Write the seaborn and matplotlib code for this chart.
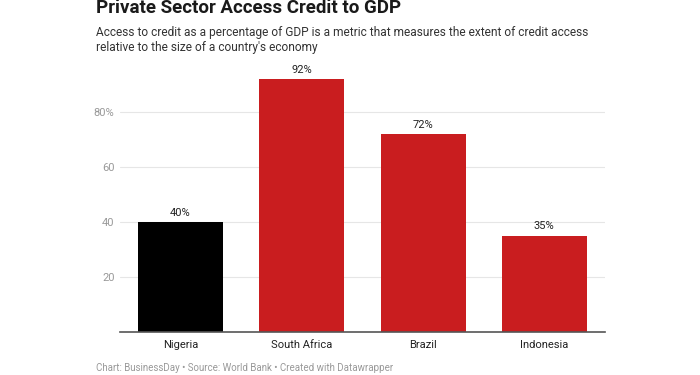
import matplotlib.pyplot as plt
import seaborn as sns
import pandas as pd

countries = ["Nigeria", "South Africa", "Brazil", "Indonesia"]
credit_pct = [40, 92, 72, 35]
bar_colors = ["#000000", "#c91d1f", "#c91d1f", "#c91d1f"]
yticks = [20, 40, 60, 80]
ytick_labels = ["20", "40", "60", "80%"]

df = pd.DataFrame({"country": countries, "credit": credit_pct})

sns.set_theme(style="white")
plt.rcParams["font.family"] = ["Roboto", "DejaVu Sans"]

fig = plt.figure(figsize=(7, 3.75), dpi=100)
ax = fig.add_axes([120 / 700, 43 / 375, 485 / 700, 261 / 375])

sns.barplot(data=df, x="country", y="credit", hue="country", palette=bar_colors,
            width=0.7, legend=False, ax=ax, saturation=1, linewidth=0)

for i, v in enumerate(credit_pct):
    ax.text(i, v + 1.6, f"{v}%", ha="center", va="bottom", fontsize=8, color="#222222")

ax.set_xlim(-0.5, 3.5)
ax.set_ylim(0, 95)
ax.set_yticks(yticks)
ax.set_yticklabels(ytick_labels)
ax.yaxis.grid(True, color="#e6e6e6", linewidth=0.8)
ax.set_axisbelow(True)
ax.set_xlabel("")
ax.set_ylabel("")
for s in ["top", "right", "left"]:
    ax.spines[s].set_visible(False)
ax.spines["bottom"].set_color("#555555")
ax.spines["bottom"].set_linewidth(1.2)
ax.tick_params(axis="y", colors="#aaaaaa", labelsize=8, length=0, pad=4)
ax.tick_params(axis="x", colors="#222222", labelsize=8, length=0, pad=6)
for lbl in ax.get_yticklabels():
    lbl.set_color("#999999")

fig.text(96 / 700, 1 - 8 / 375, "Private Sector Access Credit to GDP", fontsize=13.5,
         fontweight="bold", color="#1a1a1a", ha="left", va="center")
fig.text(96 / 700, 1 - 26 / 375,
         "Access to credit as a percentage of GDP is a metric that measures the extent of credit access\n"
         "relative to the size of a country's economy",
         fontsize=8.6, color="#333333", ha="left", va="top", linespacing=1.25)
fig.text(96 / 700, 1 - 368 / 375, "Chart: BusinessDay • Source: World Bank • Created with Datawrapper",
         fontsize=7, color="#999999", ha="left", va="center")

fig.savefig("out.png", dpi=100)
